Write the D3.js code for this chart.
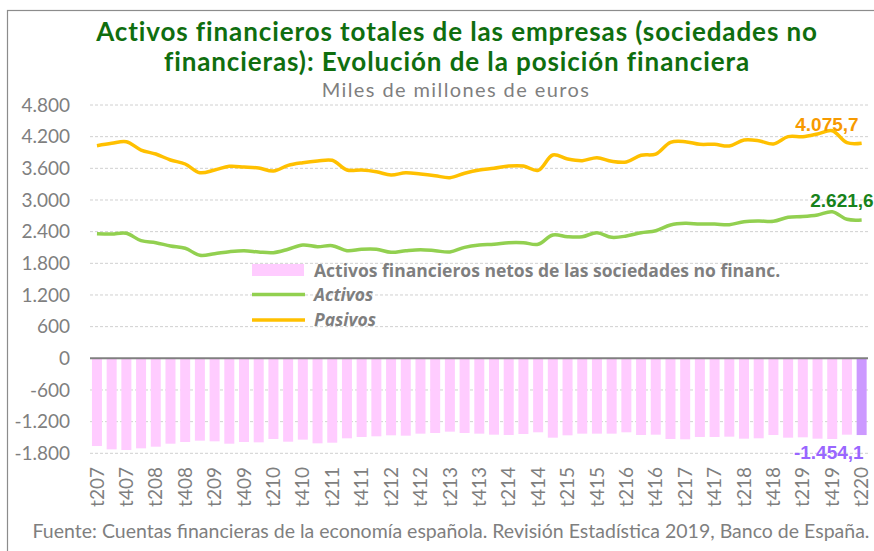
<!DOCTYPE html>
<html>
<head>
<meta charset="utf-8">
<script src="https://cdn.jsdelivr.net/npm/d3@7"></script>
<style>
  body { margin: 0; background: #fff; }
  svg { display: block; }
</style>
</head>
<body>
<svg id="chart" width="874" height="551"></svg>
<script>
// quarters, t207 .. t220
const QUARTERS = [
  "t207","t307","t407","t108","t208","t308","t408","t109","t209","t309","t409","t110",
  "t210","t310","t410","t111","t211","t311","t411","t112","t212","t312","t412","t113",
  "t213","t313","t413","t114","t214","t314","t414","t115","t215","t315","t415","t116",
  "t216","t316","t416","t117","t217","t317","t417","t118","t218","t318","t418","t119",
  "t219","t319","t419","t120","t220"
]

// Miles de millones de euros
const PASIVOS = [4029,4074,4105,3947,3871,3758,3682,3517,3568,3638,3625,3606,3549,3657,
  3707,3739,3752,3568,3568,3536,3474,3517,3492,3460,3422,3506,3568,3600,3644,3644,3562,3853,3777,3745,
  3802,3733,3720,3847,3871,4093,4105,4055,4055,4023,4137,4124,4061,4200,4200,4251,4313,4086,4075.7]

const ACTIVOS = [2361,2355,2369,2229,2191,2128,2085,1952,1982,2020,2039,2014,2001,2066,
  2147,2115,2134,2039,2066,2066,2009,2039,2058,2039,2014,2103,2147,2160,2191,2191,2160,2336,2304,2304,
  2380,2293,2318,2380,2418,2526,2558,2545,2545,2532,2589,2602,2596,2672,2685,2716,2778,2634,2621.6]

const NETOS = [-1662,-1725,-1738,-1706,-1675,-1618,-1586,-1561,-1573,-1618,-1586,-1592,-1529,-1580,
  -1541,-1611,-1599,-1516,-1491,-1478,-1459,-1466,-1428,-1415,-1390,-1415,-1428,-1447,-1453,-1434,-1402,-1504,-1459,-1428,
  -1428,-1428,-1402,-1453,-1447,-1529,-1535,-1491,-1491,-1485,-1523,-1516,-1453,-1504,-1497,-1523,-1529,-1447,-1454.1]

const Y_TICKS = [-1800,-1200,-600,0,600,1200,1800,2400,3000,3600,4200,4800]

const TITLE_LINES = ["Activos financieros totales de las empresas (sociedades no",
                     "financieras): Evolución de la posición financiera"]
const SUBTITLE = "Miles de millones de euros"
const SOURCE = "Fuente: Cuentas financieras de la economía española. Revisión Estadística 2019, Banco de España."

const GILL = "Lato, 'Open Sans', sans-serif"
const GREY = "#7f7f7f"

const esLocale = d3.formatLocale({decimal: ",", thousands: ".", grouping: [3], currency: ["", "€"], minus: "-"})
const fmtTick = esLocale.format(",d")
const fmtLast = esLocale.format(",.1f")

const svg = d3.select("#chart")

//frame round the chart
svg.append("rect")
  .attr("x", 7.5).attr("y", 10.5)
  .attr("width", 880).attr("height", 560)
  .attr("fill", "none")
  .attr("stroke", "#8c8c8c")
  .attr("stroke-width", 1.2)

const x = d3.scaleBand()
  .domain(QUARTERS)
  .range([89.6, 869])
  .paddingInner(0.32)
  .paddingOuter(0.16)

const y = d3.scaleLinear()
  .domain([-1800, 4800])
  .range([453.3, 105])

const cx = d => x(d) + x.bandwidth() / 2

//gridlines
svg.append("g")
  .selectAll("line")
  .data(Y_TICKS.filter(t => t != 0))
  .join("line")
    .attr("x1", 90).attr("x2", 868)
    .attr("y1", d => y(d)).attr("y2", d => y(d))
    .attr("stroke", "#d0d0d0")
    .attr("stroke-width", 1)
    .attr("stroke-dasharray", "3,2")

//y axis labels (no line)
const yAxis = svg.append("g")
  .attr("transform", "translate(90,0)")
  .call(d3.axisLeft(y).tickValues(Y_TICKS).tickFormat(fmtTick).tickSize(0).tickPadding(20))
yAxis.select(".domain").remove()
yAxis.selectAll("text")
  .attr("fill", GREY)
  .style("font-family", GILL)
  .style("font-size", "19px")

//bars
svg.append("g")
  .selectAll("rect")
  .data(QUARTERS)
  .join("rect")
    .attr("x", d => x(d))
    .attr("width", x.bandwidth())
    .attr("y", (d, i) => y(Math.max(0, NETOS[i])))
    .attr("height", (d, i) => Math.abs(y(NETOS[i]) - y(0)))
    .attr("fill", (d, i) => i == QUARTERS.length - 1 ? "#cc99ff" : "#ffccff")

//zero line
svg.append("line")
  .attr("x1", 90).attr("x2", 868)
  .attr("y1", y(0)).attr("y2", y(0))
  .attr("stroke", "#7f7f7f")
  .attr("stroke-width", 2)

//x axis labels, every second quarter
const xAxis = svg.append("g")
  .attr("transform", "translate(0,462)")
  .call(d3.axisBottom(x).tickValues(QUARTERS.filter((d, i) => i % 2 == 0)).tickSize(0))
xAxis.select(".domain").remove()
xAxis.selectAll("text")
  .attr("transform", "rotate(-90)")
  .attr("x", -5).attr("y", 0).attr("dy", "0.35em")
  .attr("text-anchor", "end")
  .attr("fill", GREY)
  .style("font-family", GILL)
  .style("font-size", "19px")

//lines
const line = values => d3.line()
  .x((d, i) => cx(QUARTERS[i]))
  .y(d => y(d))
  .curve(d3.curveCatmullRom.alpha(0.5))(values)

svg.append("path")
  .attr("d", line(ACTIVOS))
  .attr("fill", "none")
  .attr("stroke", "#92d050")
  .attr("stroke-width", 3.5)
  .attr("stroke-linejoin", "round")

svg.append("path")
  .attr("d", line(PASIVOS))
  .attr("fill", "none")
  .attr("stroke", "#ffc000")
  .attr("stroke-width", 3.5)
  .attr("stroke-linejoin", "round")

//last value labels
const last = QUARTERS.length - 1
const lastLabels = [
  {v: PASIVOS[last], dx: -3, dy: -12, color: "#f79a00"},
  {v: ACTIVOS[last], dx: 12, dy: -13, color: "#17821a"},
  {v: NETOS[last], dx: 2, dy: 24, color: "#9966ff"}
]
svg.append("g")
  .selectAll("text")
  .data(lastLabels)
  .join("text")
    .attr("x", d => cx(QUARTERS[last]) + d.dx)
    .attr("y", d => y(d.v) + d.dy)
    .attr("text-anchor", "end")
    .attr("fill", d => d.color)
    .style("font-family", "'Liberation Sans', Arial, sans-serif")
    .style("font-weight", "bold")
    .style("font-size", "19px")
    .text(d => fmtLast(d.v))

//legend
const legend = svg.append("g").attr("transform", "translate(252,0)")
legend.append("rect")
  .attr("x", 0).attr("y", 264).attr("width", 52).attr("height", 12)
  .attr("fill", "#ffccff")
legend.append("line")
  .attr("x1", 0).attr("x2", 53).attr("y1", 294.5).attr("y2", 294.5)
  .attr("stroke", "#92d050").attr("stroke-width", 3.5)
legend.append("line")
  .attr("x1", 0).attr("x2", 53).attr("y1", 320).attr("y2", 320)
  .attr("stroke", "#ffc000").attr("stroke-width", 3.5)

const legendItems = [
  {t: "Activos financieros netos de las sociedades no financ.", y: 277, italic: false},
  {t: "Activos", y: 301, italic: true},
  {t: "Pasivos", y: 326, italic: true}
]
legend.selectAll("text.leg")
  .data(legendItems)
  .join("text")
    .attr("class", "leg")
    .attr("x", 62)
    .attr("y", d => d.y)
    .attr("fill", GREY)
    .style("font-family", "'Open Sans', sans-serif")
    .style("font-weight", "bold")
    .style("font-style", d => d.italic ? "italic" : "normal")
    .style("font-size", "17.5px")
    .text(d => d.t)

//titles
svg.append("g")
  .selectAll("text")
  .data(TITLE_LINES)
  .join("text")
    .attr("x", 457)
    .attr("y", (d, i) => 41 + i * 29.5)
    .attr("text-anchor", "middle")
    .attr("fill", "#0f6e0f")
    .style("font-family", GILL)
    .style("font-weight", "bold")
    .style("font-size", "26px")
    .style("letter-spacing", "0.9px")
    .text(d => d)

svg.append("text")
  .attr("x", 456).attr("y", 96.5)
  .attr("text-anchor", "middle")
  .attr("fill", GREY)
  .style("font-family", GILL)
  .style("font-size", "20px")
  .style("letter-spacing", "1.4px")
  .text(SUBTITLE)

svg.append("text")
  .attr("x", 451).attr("y", 538)
  .attr("text-anchor", "middle")
  .attr("fill", GREY)
  .style("font-family", GILL)
  .style("font-size", "19.5px")
  .text(SOURCE)
</script>
</body>
</html>
